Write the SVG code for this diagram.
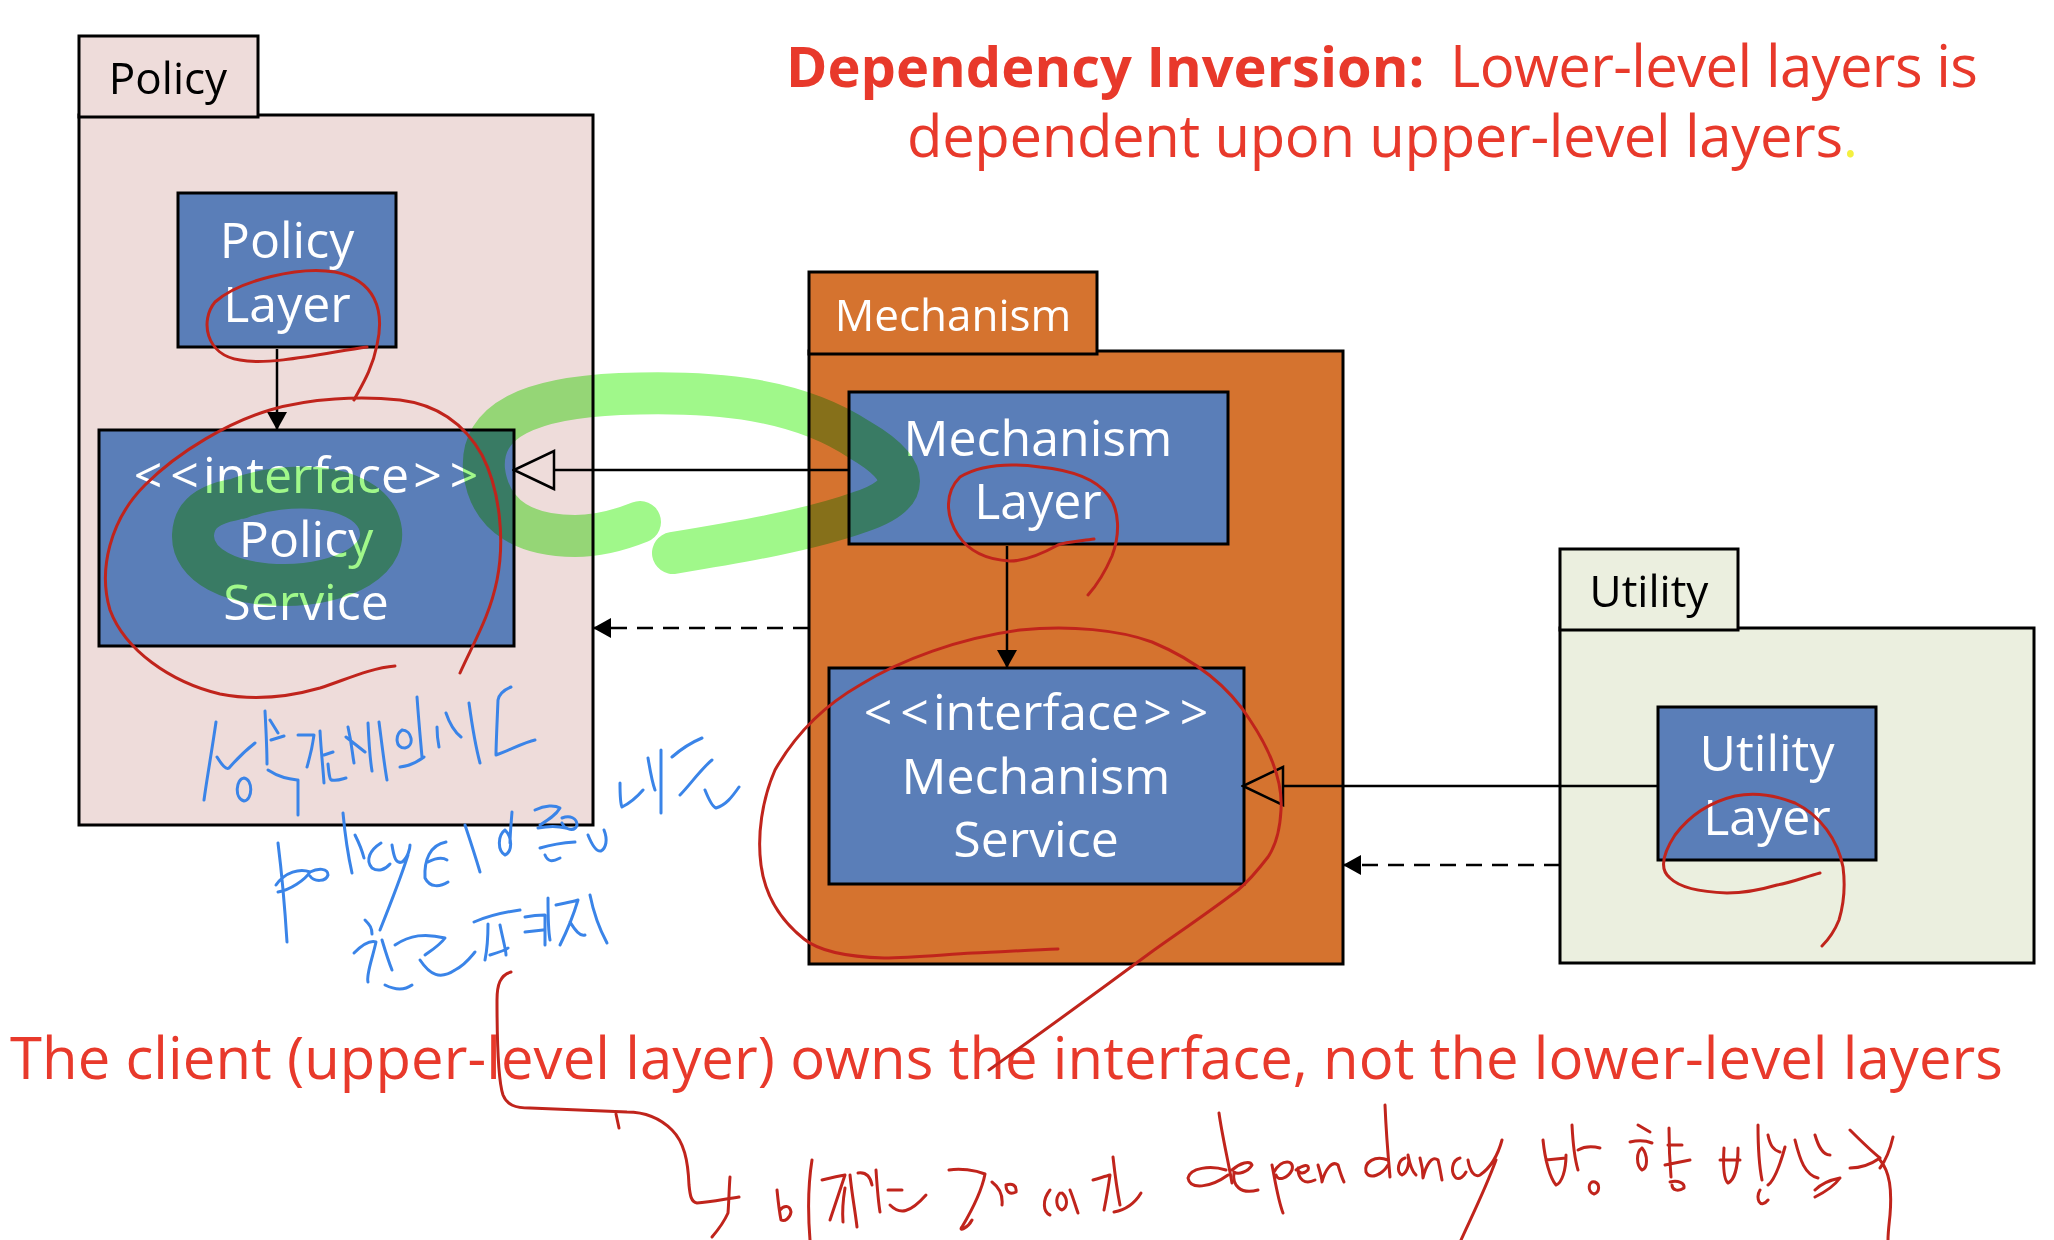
<svg xmlns="http://www.w3.org/2000/svg" width="2054" height="1240" viewBox="0 0 2054 1240">
<defs>
<style>
.pkg{stroke:#000;stroke-width:3}
.pol{fill:#EEDCDA}
.mec{fill:#D5732F}
.uti{fill:#EBEFDF}
.node{fill:#5A7EB8;stroke:#000;stroke-width:3}
.tab{font-family:"Open Sans","Noto Sans",sans-serif;font-size:44px;text-anchor:middle}
.nt{font-family:"Open Sans","Noto Sans",sans-serif;font-size:50px;fill:#fff;text-anchor:middle}
.big{font-family:"Open Sans","Noto Sans",sans-serif;font-size:58px;fill:#E8392B}
.bold{font-weight:bold;font-size:56px}
.ln{fill:none;stroke:#000;stroke-width:2.5}
.dash{stroke-dasharray:16 10}
.hl{fill:none;stroke:#A0F88A;stroke-width:42;stroke-linecap:round;stroke-linejoin:round;mix-blend-mode:multiply}
.red{fill:none;stroke:#C0241C;stroke-width:3;stroke-linecap:round;stroke-linejoin:round}
.blue{fill:none;stroke:#3A84E8;stroke-width:3;stroke-linecap:round;stroke-linejoin:round}
</style>
<marker id="fill" markerUnits="userSpaceOnUse" viewBox="0 0 18 20" refX="18" refY="10" markerWidth="18" markerHeight="20" orient="auto">
<path d="M0,0 L18,10 L0,20 z" fill="#000"/>
</marker>
<marker id="tri" markerUnits="userSpaceOnUse" viewBox="-2 -2 44 42" refX="0" refY="19" markerWidth="44" markerHeight="42" orient="auto">
<path d="M0,0 L40,19 L0,38 z" fill="none" stroke="#000" stroke-width="2.5"/>
</marker>
</defs>

<g id="pkg-policy">
<rect class="pkg pol" x="79" y="115" width="514" height="710"/>
<rect class="pkg pol" x="79" y="36" width="179" height="81"/>
<text class="tab" x="168" y="94" fill="#000">Policy</text>
</g>
<g id="pkg-mechanism">
<rect class="pkg mec" x="809" y="351" width="534" height="613"/>
<rect class="pkg mec" x="809" y="272" width="288" height="82"/>
<text class="tab" x="953" y="331" fill="#fff">Mechanism</text>
</g>
<g id="pkg-utility">
<rect class="pkg uti" x="1560" y="628" width="474" height="335"/>
<rect class="pkg uti" x="1560" y="549" width="178" height="81"/>
<text class="tab" x="1649" y="607" fill="#000">Utility</text>
</g>

<g id="node-policy-layer">
<rect class="node" x="178" y="193" width="218" height="154"/>
<text class="nt" x="287" y="258">Policy</text>
<text class="nt" x="287" y="322">Layer</text>
</g>
<g id="node-policy-service">
<rect class="node" x="99" y="430" width="415" height="216"/>
<text class="nt" x="306" y="493">&lt;<tspan dx="8">&lt;</tspan><tspan dx="4">interface</tspan><tspan dx="4">&gt;</tspan><tspan dx="8">&gt;</tspan></text>
<text class="nt" x="306" y="557">Policy</text>
<text class="nt" x="306" y="620">Service</text>
</g>
<g id="node-mechanism-layer">
<rect class="node" x="849" y="392" width="379" height="152"/>
<text class="nt" x="1038" y="456">Mechanism</text>
<text class="nt" x="1038" y="519">Layer</text>
</g>
<g id="node-mechanism-service">
<rect class="node" x="829" y="668" width="415" height="216"/>
<text class="nt" x="1036" y="730">&lt;<tspan dx="8">&lt;</tspan><tspan dx="4">interface</tspan><tspan dx="4">&gt;</tspan><tspan dx="8">&gt;</tspan></text>
<text class="nt" x="1036" y="794">Mechanism</text>
<text class="nt" x="1036" y="857">Service</text>
</g>
<g id="node-utility-layer">
<rect class="node" x="1658" y="707" width="218" height="153"/>
<text class="nt" x="1767" y="771">Utility</text>
<text class="nt" x="1767" y="835">Layer</text>
</g>

<g id="connectors">
<line class="ln" x1="277" y1="349" x2="277" y2="430" marker-end="url(#fill)"/>
<line class="ln" x1="849" y1="470" x2="554" y2="470" marker-end="url(#tri)"/>
<line class="ln dash" x1="809" y1="628" x2="593" y2="628" marker-end="url(#fill)"/>
<line class="ln" x1="1007" y1="546" x2="1007" y2="668" marker-end="url(#fill)"/>
<line class="ln" x1="1658" y1="786" x2="1283" y2="786" marker-end="url(#tri)"/>
<line class="ln dash" x1="1560" y1="865" x2="1343" y2="865" marker-end="url(#fill)"/>
</g>

<g id="title">
<text class="big bold" x="786" y="87">Dependency Inversion:</text>
<text class="big" x="1450" y="87" textLength="528" lengthAdjust="spacing">Lower-level layers is</text>
<text class="big" x="907" y="157" textLength="951" lengthAdjust="spacing">dependent upon upper-level layers<tspan fill="#F4F040">.</tspan></text>
<text class="big" x="10" y="1079" textLength="1993" lengthAdjust="spacing">The client (upper-level layer) owns the interface, not the lower-level layers</text>
</g>

<g id="highlighter">
<path class="hl" d="M640,522 C620,530 600,536 575,536 C530,536 490,520 484,470 C480,420 530,398 620,394 C720,390 800,400 860,440 C912,470 912,495 860,512 C810,530 740,542 673,553"/>
<path class="hl" d="M240,498 C285,481 360,482 378,520 C395,560 340,585 285,585 C230,585 192,565 193,535 C194,512 212,504 232,500" stroke-width="44"/>
</g>

<g id="ink-red">
<path class="red" d="M367,347 C330,352 270,366 240,360 C205,355 200,320 215,302 C240,280 300,266 335,272 C375,280 385,310 377,345 C372,370 362,385 354,400"/>
<path class="red" d="M460,673 C475,640 490,615 497,580 C505,540 500,490 482,455 C465,425 440,405 400,400 C360,396 310,398 270,410 C230,422 180,450 145,485 C110,520 98,570 110,610 C125,650 170,682 220,694 C250,700 285,698 320,688 C345,680 370,668 395,666"/>
<path class="red" d="M1094,539 C1080,541 1065,542 1058,545 C1040,555 1025,561 1010,561 C990,560 970,553 958,535 C945,515 945,492 960,477 C980,465 1010,463 1040,467 C1070,470 1095,478 1108,495 C1120,510 1120,535 1112,556 C1105,572 1097,585 1088,595"/>
<path class="red" d="M1058,949 C1030,950 1000,952 973,953 C940,955 910,958 884,958 C850,957 820,952 804,939 C780,920 765,895 761,865 C757,835 762,800 775,770 C795,735 825,705 860,685 C900,660 960,638 1020,630 C1070,625 1120,630 1152,642 C1195,660 1228,685 1250,720 C1270,750 1283,780 1281,810 C1280,830 1276,845 1268,857 C1258,870 1250,880 1238,890 C1205,915 1175,935 1150,953 C1100,990 1045,1030 989,1070"/>
<path class="red" d="M1820,873 C1805,877 1790,883 1777,885 C1760,890 1742,893 1727,893 C1700,892 1680,888 1670,878 C1660,870 1662,855 1675,835 C1690,815 1710,802 1735,796 C1755,792 1775,795 1795,803 C1820,815 1838,840 1843,867 C1846,890 1842,910 1839,920 C1835,930 1830,938 1822,946"/>
<path class="red" d="M511,972 C500,975 497,985 497,1000 C497,1040 498,1080 503,1095 C507,1105 515,1108 530,1108 C560,1109 600,1111 627,1112 C645,1112 660,1118 672,1130 C684,1142 688,1160 689,1185 C690,1195 691,1202 697,1203 C710,1202 725,1199 739,1197"/>
<path class="red" d="M616,1114 L619,1128"/>
<path class="red" d="M730,1177 C729,1190 729,1200 728,1213 C724,1222 718,1230 712,1237"/>
<path class="red" d="M777,1190 C778,1200 779,1210 781,1220 C785,1222 790,1218 791,1212 C790,1205 784,1205 780,1210"/>
<path class="red" d="M812,1160 C808,1185 808,1215 810,1240"/>
<path class="red" d="M822,1180 C830,1178 838,1176 845,1175 C840,1190 835,1205 830,1220 M845,1188 C843,1200 842,1210 843,1222 M850,1175 C852,1195 855,1210 857,1227 M858,1173 C865,1172 870,1175 872,1185 M876,1170 C877,1185 878,1200 880,1212 M890,1205 C900,1215 910,1213 926,1195 M888,1190 L902,1190"/>
<path class="red" d="M949,1170 C960,1168 975,1170 985,1174 C982,1190 975,1205 962,1227 C958,1232 968,1228 972,1220 M992,1182 C1000,1188 1003,1195 1002,1205 M1006,1185 C1012,1183 1017,1185 1016,1192 C1010,1195 1006,1192 1006,1185"/>
<path class="red" d="M1050,1190 C1042,1200 1043,1212 1050,1215 M1060,1193 C1055,1198 1056,1208 1062,1210 C1068,1207 1068,1198 1062,1193 M1070,1190 C1074,1200 1076,1208 1078,1213"/>
<path class="red" d="M1093,1180 C1100,1178 1106,1176 1110,1175 C1108,1190 1106,1200 1104,1210 M1113,1157 C1115,1175 1117,1190 1120,1205 M1114,1212 C1125,1210 1135,1203 1141,1193"/>
<path class="red" d="M1219,1113 C1222,1135 1228,1160 1232,1183 M1226,1170 C1210,1165 1190,1168 1188,1178 C1190,1190 1210,1188 1228,1175"/>
<path class="red" d="M1232,1170 C1240,1163 1250,1160 1252,1165 C1248,1172 1238,1175 1234,1172 C1232,1185 1240,1195 1258,1190"/>
<path class="red" d="M1272,1165 C1275,1180 1278,1200 1283,1213 M1274,1172 C1282,1158 1295,1160 1292,1170 C1288,1178 1278,1182 1276,1175"/>
<path class="red" d="M1296,1170 C1303,1165 1310,1163 1308,1170 C1303,1175 1297,1173 1298,1168 C1298,1180 1305,1185 1315,1180 M1318,1165 C1320,1172 1322,1178 1322,1182 C1325,1170 1332,1160 1338,1165 C1340,1172 1342,1178 1344,1182"/>
<path class="red" d="M1385,1105 C1386,1130 1388,1155 1390,1177 M1388,1160 C1375,1155 1364,1162 1366,1172 C1370,1180 1382,1175 1388,1165"/>
<path class="red" d="M1405,1158 C1398,1160 1396,1172 1402,1175 C1408,1172 1410,1162 1408,1155 C1410,1165 1412,1172 1416,1175 M1420,1158 C1422,1165 1423,1172 1423,1178 C1426,1165 1432,1155 1438,1160 C1440,1168 1441,1175 1442,1180"/>
<path class="red" d="M1460,1158 C1452,1160 1450,1172 1456,1178 C1460,1180 1464,1176 1466,1172 M1468,1160 C1470,1172 1475,1178 1480,1175 C1490,1168 1498,1155 1502,1140 M1496,1160 C1485,1190 1470,1220 1461,1240"/>
<path class="red" d="M1543,1140 C1545,1160 1550,1178 1556,1185 C1562,1183 1566,1170 1566,1155 M1546,1160 L1566,1158 M1572,1125 C1573,1145 1575,1160 1578,1170 M1578,1150 C1585,1146 1592,1146 1600,1148 M1595,1182 C1588,1180 1587,1192 1594,1194 C1600,1192 1600,1184 1595,1182"/>
<path class="red" d="M1638,1125 L1650,1132 M1630,1142 C1638,1140 1645,1140 1652,1143 M1642,1148 C1636,1152 1636,1165 1642,1170 C1648,1168 1648,1155 1642,1148 M1669,1128 C1669,1150 1670,1165 1671,1177 M1668,1145 L1682,1145 M1665,1165 L1690,1160 M1670,1182 C1678,1180 1685,1183 1684,1188 C1678,1192 1672,1190 1672,1185"/>
<path class="red" d="M1724,1148 C1723,1165 1724,1180 1728,1183 C1735,1180 1738,1165 1738,1148 M1720,1160 L1740,1160 M1758,1125 C1758,1150 1760,1170 1762,1180 M1768,1135 C1770,1145 1773,1150 1780,1152 M1760,1190 C1755,1198 1760,1210 1768,1200 M1785,1147 C1780,1165 1775,1180 1768,1185"/>
<path class="red" d="M1795,1140 C1800,1160 1805,1175 1818,1178 M1815,1135 C1818,1145 1822,1155 1830,1155 M1815,1190 C1820,1185 1830,1180 1840,1178 C1835,1185 1825,1192 1815,1197 M1850,1130 C1860,1140 1870,1150 1880,1158 C1870,1165 1860,1168 1850,1168 M1880,1160 C1890,1172 1892,1190 1890,1215 C1889,1225 1888,1232 1888,1240 M1893,1137 C1890,1150 1886,1160 1880,1168"/>
</g>

<g id="ink-blue">
<path class="blue" d="M216,722 C212,750 207,778 204,800 M217,757 C222,765 226,770 229,768 C236,760 246,750 255,743 M244,778 C236,779 234,798 244,801 C253,800 253,779 244,778"/>
<path class="blue" d="M265,711 C266,730 267,748 267,764 M270,720 L278,733 M271,740 L284,736 M268,770 C280,778 290,779 298,780 C298,792 298,804 298,815"/>
<path class="blue" d="M298,735 L314,735 C312,750 309,760 307,767 M320,731 C321,750 323,768 324,783 M324,755 L333,752 M328,764 C329,775 330,781 332,780 C338,781 342,779 346,778"/>
<path class="blue" d="M348,727 C352,745 352,752 354,763 M346,737 L365,752 M368,723 C369,745 371,765 372,771 M379,722 C382,745 385,770 387,780"/>
<path class="blue" d="M402,730 C395,735 395,748 405,748 C415,746 412,730 402,730 M417,697 C419,725 421,745 422,757 M400,767 C410,766 420,760 424,757"/>
<path class="blue" d="M437,727 C437,735 438,742 439,747 M446,713 C450,725 456,733 461,737 M469,703 C472,725 476,748 480,763"/>
<path class="blue" d="M511,687 C504,690 499,695 498,700 C497,725 496,745 496,755 C510,750 525,742 535,740"/>
<path class="blue" d="M278,843 C282,875 285,910 287,942 M276,885 C285,872 300,868 310,872 C305,880 290,890 278,892 M310,872 C318,868 328,868 328,875 C326,882 314,882 310,876"/>
<path class="blue" d="M343,813 C345,835 348,855 352,873 M355,835 C360,845 362,850 364,858 M381,843 C370,850 365,860 372,868 C378,872 385,870 390,864"/>
<path class="blue" d="M392,845 C394,858 396,864 402,862 C408,858 410,848 410,845 M408,855 C400,880 390,905 380,930"/>
<path class="blue" d="M446,842 C430,845 424,860 425,878 C430,888 440,887 448,882 M428,862 C436,858 442,857 447,860 M465,825 C470,840 475,855 480,872"/>
<path class="blue" d="M505,830 C498,835 497,850 505,855 C512,852 513,838 505,830 M512,812 C511,825 510,835 510,843"/>
<path class="blue" d="M535,810 C545,805 555,805 560,808 C556,815 548,820 540,825 M538,828 C548,826 558,826 566,828 M540,848 C550,845 560,843 575,842 M545,855 C548,862 552,862 560,858"/>
<path class="blue" d="M562,818 C570,815 577,818 577,825 C575,832 565,830 562,823 M588,835 C592,845 596,852 601,851 C606,848 608,840 604,830"/>
<path class="blue" d="M620,783 C620,795 620,803 622,807 C630,803 637,797 643,790 M648,758 C650,770 652,782 655,790 M661,750 C661,770 661,792 661,813"/>
<path class="blue" d="M672,757 C680,750 690,743 702,738 M712,760 C700,770 690,785 680,795 M705,790 C709,800 713,807 716,808 C726,805 732,797 739,787"/>
<path class="blue" d="M354,953 C362,945 370,940 376,942 C372,960 366,975 368,982 M365,920 C370,925 372,928 372,934 M382,940 C385,950 388,960 392,970"/>
<path class="blue" d="M395,945 C410,935 425,933 445,938 C440,945 432,950 425,955 M420,960 C430,975 440,980 455,970 C465,965 470,958 475,952 M385,985 C395,990 405,990 412,985"/>
<path class="blue" d="M474,922 C490,915 505,912 520,910 M488,924 C488,940 487,950 485,960 M500,925 C503,940 506,950 506,955 M490,955 C500,952 506,950 508,948"/>
<path class="blue" d="M525,917 C535,915 540,915 545,915 C545,925 545,935 545,945 M525,932 L543,930 M548,898 C548,915 548,930 550,940"/>
<path class="blue" d="M556,905 C565,903 572,902 578,900 C572,920 565,935 560,945 M570,922 C575,930 580,937 585,935 M590,895 C594,915 600,930 607,943"/>
</g>
</svg>
